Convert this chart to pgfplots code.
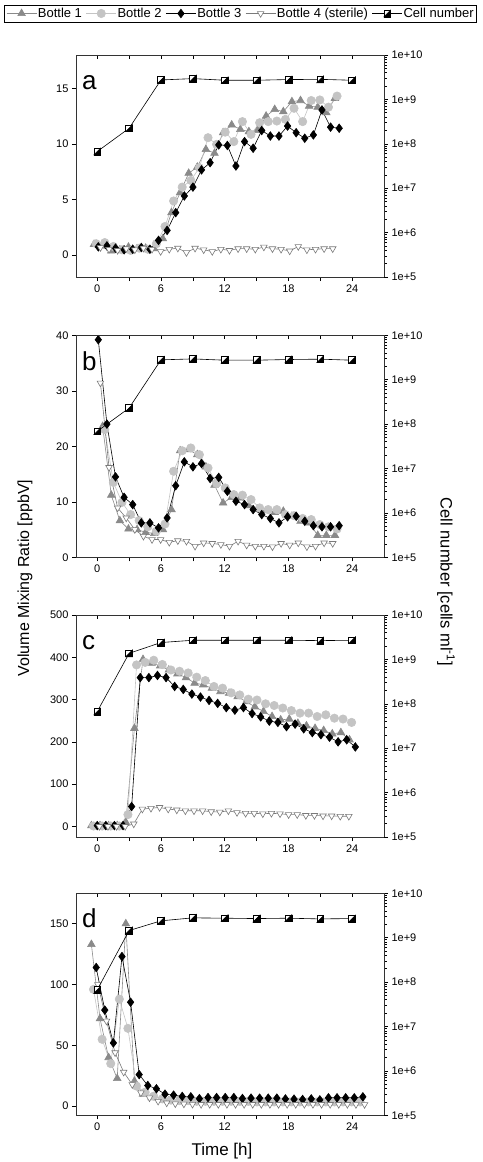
\documentclass[border=0pt]{standalone}
\usepackage{fontspec}
\setmainfont{Liberation Sans}
\usepackage{pgfplots}
\pgfplotsset{compat=1.18}
\definecolor{bone}{HTML}{8A8A8A}
\definecolor{btwo}{HTML}{C4C4C4}
\definecolor{bfour}{HTML}{7A7A7A}
\pgfdeclareplotmark{halfsq}{%
  \pgfpathrectangle{\pgfqpoint{-\pgfplotmarksize}{-\pgfplotmarksize}}{\pgfqpoint{2\pgfplotmarksize}{2\pgfplotmarksize}}%
  \pgfsetfillcolor{white}%
  \pgfusepathqfillstroke
  \pgfpathmoveto{\pgfqpoint{\pgfplotmarksize}{\pgfplotmarksize}}%
  \pgfpathlineto{\pgfqpoint{\pgfplotmarksize}{-\pgfplotmarksize}}%
  \pgfpathlineto{\pgfqpoint{-\pgfplotmarksize}{-\pgfplotmarksize}}%
  \pgfpathclose
  \pgfsetfillcolor{black}%
  \pgfusepathqfillstroke
}
\tikzset{
  ttl/.style={anchor=base east, font=\fontsize{12.5}{14}\selectfont, inner sep=0pt},
  letter/.style={anchor=base west, font=\fontsize{26}{26}\selectfont, inner sep=0pt},
}
\pgfplotsset{
  base/.style={scale only axis, width=308pt, height=222pt, xmin=-2, xmax=27,
    axis line style={line width=0.7pt, black!80},
    tick style={line width=0.6pt, black},
    major tick length=4pt, minor tick length=4pt,
    tick label style={font=\fontsize{11}{12}\selectfont},
    /pgf/number format/assume math mode=true, anchor=north west},
  lin/.style={base, xtick={0,6,12,18,24}, minor xtick={3,9,15,21},
    xtick pos=bottom, ytick pos=left, tick align=outside},
  topt/.style={base, hide y axis, axis x line*=top, xtick={0,3,...,24},
    xticklabels={}, tick align=inside, ymin=0, ymax=1},
  logr/.style={base, ymin=1e5, ymax=1e10, hide x axis,
    axis y line*=right, tick align=outside,
    ytick={1e5,1e6,1e7,1e8,1e9,1e10},
    yticklabels={1e+5,1e+6,1e+7,1e+8,1e+9,1e+10},
    minor tick length=2.5pt},
  b1/.style={color=bone, line width=0.6pt, mark=triangle*, mark size=4.4pt, mark options={fill=bone, draw=bone}},
  b2/.style={color=btwo, line width=0.6pt, mark=*, mark size=4.2pt, mark options={fill=btwo, draw=btwo}},
  b3/.style={color=black, line width=0.6pt, mark=diamond*, mark size=4.3pt, mark options={fill=black, draw=black}},
  b4/.style={color=bfour, line width=0.6pt, mark=triangle*, mark size=3.8pt, mark options={fill=white, draw=bfour, rotate=180}},
  cell/.style={color=black, line width=0.6pt, mark=halfsq, mark size=3.4pt, mark options={draw=black}},
}
\begin{document}
\begin{tikzpicture}
\useasboundingbox (0pt,0pt) rectangle (482pt,-1162pt);

% ================= panel a =================
\begin{axis}[lin, at={(76pt,-55pt)}, ymin=-2, ymax=18, ytick={0,5,10,15},
  legend columns=5,
  legend style={at={(0.534,1.187)}, anchor=center, draw=black, line width=0.6pt,
    font=\fontsize{13}{14}\selectfont, inner xsep=2pt, inner ysep=2pt,
    nodes={inner sep=1pt},
    /tikz/every even column/.append style={column sep=3pt}},
  legend cell align=left,
  legend image code/.code={\draw[mark repeat=2,mark phase=2] plot coordinates {(0pt,0pt) (15pt,0pt) (30pt,0pt)};}]
\addplot[b1] coordinates {(-0.30,0.95)(0.51,0.85)(1.32,0.35)(2.13,0.45)(2.94,0.7)(3.75,0.55)(4.56,0.6)(5.37,0.55)(6.18,1.45)(6.99,3.8)(7.80,5.6)(8.61,7.35)(9.42,7.9)(10.23,9.5)(11.04,9.15)(11.85,11.0)(12.66,11.7)(13.47,11.3)(14.28,11.1)(15.09,11.2)(15.90,12.5)(16.71,13.1)(17.52,12.9)(18.33,13.8)(19.14,13.9)(19.95,13.4)(20.76,13.3)(21.57,12.8)(22.38,14.1)};
\addlegendentry{Bottle 1}
\addplot[b2] coordinates {(-0.10,1.0)(0.71,1.1)(1.52,0.75)(2.33,0.45)(3.14,0.4)(3.95,0.6)(4.76,0.5)(5.57,1.0)(6.38,2.55)(7.19,4.85)(8.00,6.1)(8.81,6.7)(9.62,7.85)(10.43,10.55)(11.24,9.95)(12.05,11.05)(12.86,10.2)(13.67,12.0)(14.48,10.85)(15.29,11.9)(16.10,12.0)(16.91,12.05)(17.72,12.2)(18.53,13.2)(19.34,12.0)(20.15,13.9)(20.96,13.95)(21.77,13.3)(22.58,14.3)};
\addlegendentry{Bottle 2}
\addplot[b3] coordinates {(0.10,0.72)(0.91,0.8)(1.72,0.6)(2.53,0.45)(3.34,0.5)(4.15,0.66)(4.96,0.5)(5.77,1.3)(6.58,2.2)(7.39,3.8)(8.20,5.3)(9.01,6.1)(9.82,7.65)(10.63,8.3)(11.44,9.9)(12.25,9.85)(13.06,8.0)(13.87,10.2)(14.68,9.6)(15.49,11.2)(16.30,10.7)(17.11,10.7)(17.92,11.6)(18.73,11.0)(19.54,10.5)(20.35,10.8)(21.16,13.05)(21.97,11.5)(22.78,11.4)};
\addlegendentry{Bottle 3}
\addplot[b4] coordinates {(0.30,0.65)(1.11,0.5)(1.92,0.4)(2.73,0.55)(3.54,0.45)(4.35,0.6)(5.16,0.5)(5.97,0.3)(6.78,0.5)(7.59,0.6)(8.40,0.2)(9.21,0.6)(10.02,0.45)(10.83,0.3)(11.64,0.5)(12.45,0.4)(13.26,0.55)(14.07,0.55)(14.88,0.5)(15.69,0.7)(16.50,0.55)(17.31,0.5)(18.12,0.35)(18.93,0.75)(19.74,0.45)(20.55,0.5)(21.36,0.55)(22.17,0.55)};
\addlegendentry{Bottle 4 (sterile)}
\addlegendimage{cell}
\addlegendentry{Cell number}
\node[ttl] at (rel axis cs:1,1) [yshift=7.5pt] {\textit{Salmonella enterica}, 89 amu};
\node[letter] at (rel axis cs:0,1) [xshift=6pt, yshift=-34.3pt] {a};
\end{axis}
\begin{axis}[topt, at={(76pt,-55pt)}]\end{axis}
\begin{semilogyaxis}[logr, at={(76pt,-55pt)}]
\addplot[cell] coordinates {(0,6.7e7)(3,2.24e8)(6,2.74e9)(9,2.94e9)(12,2.7e9)(15,2.7e9)(18,2.8e9)(21,2.83e9)(24,2.7e9)};
\end{semilogyaxis}

% ================= panel b =================
\begin{axis}[lin, at={(76pt,-335.3pt)}, ymin=0, ymax=40, ytick={0,10,20,30,40}]
\addplot[b1] coordinates {(0.51,23.6)(1.32,11.2)(2.13,6.6)(2.94,5.1)(3.75,5.0)(4.56,4.5)(5.37,4.3)(6.18,5.0)(6.99,8.6)(7.80,19.2)(8.61,19.4)(9.42,18.5)(10.23,16.3)(11.04,13.0)(11.85,9.8)(12.66,10.8)(13.47,10.7)(14.28,9.3)(15.09,8.7)(15.90,8.4)(16.71,8.1)(17.52,8.3)(18.33,7.4)(19.14,6.5)(19.95,6.2)(20.76,3.96)(21.57,3.96)(22.38,3.96)};
\addplot[b2] coordinates {(0.71,23.0)(1.52,13.5)(2.33,9.9)(3.14,7.7)(3.95,6.6)(4.76,5.5)(5.57,4.7)(6.38,6.0)(7.19,15.5)(8.00,19.2)(8.81,19.7)(9.62,18.5)(10.43,16.1)(11.24,13.3)(12.05,12.5)(12.86,11.3)(13.67,11.2)(14.48,10.4)(15.29,8.9)(16.10,8.6)(16.91,8.6)(17.72,7.7)(18.53,7.5)(19.34,7.0)(20.15,6.8)(20.96,5.9)(21.77,5.5)(22.58,5.1)};
\addplot[b3] coordinates {(0.10,39.2)(0.91,24.0)(1.72,14.5)(2.53,10.8)(3.34,9.5)(4.15,6.2)(4.96,6.2)(5.77,5.3)(6.58,7.1)(7.39,12.9)(8.20,17.2)(9.01,16.3)(9.82,16.9)(10.63,14.2)(11.44,14.4)(12.25,11.9)(13.06,10.1)(13.87,9.5)(14.68,8.6)(15.49,7.7)(16.30,7.0)(17.11,6.2)(17.92,7.3)(18.73,7.4)(19.54,6.5)(20.35,5.7)(21.16,5.5)(21.97,5.5)(22.78,5.7)};
\addplot[b4] coordinates {(0.30,31.4)(1.11,16.2)(1.92,8.9)(2.73,7.1)(3.54,5.0)(4.35,3.8)(5.16,3.2)(5.97,3.2)(6.78,2.7)(7.59,3.0)(8.40,2.9)(9.21,2.0)(10.02,2.6)(10.83,2.5)(11.64,2.3)(12.45,2.0)(13.26,2.9)(14.07,2.2)(14.88,2.0)(15.69,2.0)(16.50,1.9)(17.31,2.5)(18.12,2.2)(18.93,2.6)(19.74,1.9)(20.55,2.0)(21.36,2.6)(22.17,2.5)};
\node[ttl] at (rel axis cs:1,1) [yshift=7pt] {\textit{Salmonella enterica},73 amu};
\node[letter] at (rel axis cs:0,1) [xshift=6pt, yshift=-34.7pt] {b};
\end{axis}
\begin{axis}[topt, at={(76pt,-335.3pt)}]\end{axis}
\begin{semilogyaxis}[logr, at={(76pt,-335.3pt)}]
\addplot[cell] coordinates {(0,6.9e7)(3,2.3e8)(6,2.8e9)(9,2.94e9)(12,2.75e9)(15,2.75e9)(18,2.85e9)(21,2.9e9)(24,2.75e9)};
\end{semilogyaxis}

% ================= panel c =================
\begin{axis}[lin, at={(76pt,-615pt)}, ymin=-25, ymax=500, ytick={0,100,200,300,400,500}]
\addplot[b1] coordinates {(-0.55,2)(0.26,2)(1.07,2)(1.88,2)(2.69,10)(3.50,232)(4.31,395)(5.12,386)(5.93,380)(6.74,370)(7.55,361)(8.36,352)(9.17,339)(9.98,335)(10.79,327)(11.60,319)(12.41,315)(13.22,307)(14.03,295)(14.84,283)(15.65,272)(16.46,260)(17.27,252)(18.08,254)(18.89,244)(19.70,238)(20.51,232)(21.32,227)(22.13,219)(22.94,222)(23.75,205)};
\addplot[b2] coordinates {(-0.35,1)(0.46,1)(1.27,1)(2.08,1)(2.89,28)(3.70,382)(4.51,388)(5.32,393)(6.13,383)(6.94,370)(7.75,367)(8.56,363)(9.37,353)(10.18,345)(10.99,331)(11.80,327)(12.61,316)(13.42,311)(14.23,301)(15.04,299)(15.85,290)(16.66,286)(17.47,280)(18.28,274)(19.09,268)(19.90,268)(20.71,260)(21.52,264)(22.33,256)(23.14,254)(23.95,246)};
\addplot[b3] coordinates {(0,2)(0.81,2)(1.62,2)(2.43,2)(3.24,47)(4.05,352)(4.86,352)(5.67,357)(6.48,352)(7.29,331)(8.10,324)(8.91,313)(9.72,306)(10.53,298)(11.34,291)(12.15,281)(12.96,275)(13.77,281)(14.58,267)(15.39,259)(16.20,249)(17.01,246)(17.82,236)(18.63,242)(19.44,231)(20.25,222)(21.06,217)(21.87,211)(22.68,200)(23.49,205)(24.30,188)};
\addplot[b4] coordinates {(0.20,0)(1.01,0)(1.82,0)(2.63,0)(3.44,6)(4.25,41)(5.06,43)(5.87,45)(6.68,41)(7.49,39)(8.30,37)(9.11,37)(9.92,37)(10.73,35)(11.54,34)(12.35,37)(13.16,33)(13.97,31)(14.78,31)(15.59,30)(16.40,31)(17.21,30)(18.02,28)(18.83,28)(19.64,26)(20.45,26)(21.26,25)(22.07,25)(22.88,24)(23.69,24)};
\node[ttl] at (rel axis cs:1,1) [yshift=8pt] {\textit{Escherichia coli},118 amu};
\node[letter] at (rel axis cs:0,1) [xshift=6pt, yshift=-34.3pt] {c};
\end{axis}
\begin{axis}[topt, at={(76pt,-615pt)}]\end{axis}
\begin{semilogyaxis}[logr, at={(76pt,-615pt)}]
\addplot[cell] coordinates {(0,6.7e7)(3,1.37e9)(6,2.4e9)(9,2.7e9)(12,2.7e9)(15,2.7e9)(18,2.7e9)(21,2.65e9)(24,2.7e9)};
\end{semilogyaxis}

% ================= panel d =================
\begin{axis}[lin, at={(76pt,-893.3pt)}, ymin=-7.5, ymax=175, ytick={0,50,100,150}]
\addplot[b1] coordinates {(-0.55,133)(0.26,72)(1.07,40)(1.88,22.8)(2.69,150)(3.50,20.6)(4.31,10)(5.12,7)(5.93,5)(6.74,4.5)(7.55,4)(8.36,4)(9.17,3.5)(9.98,3.5)(10.79,3.5)(11.60,3.5)(12.41,3.5)(13.22,3)(14.03,3)(14.84,3)(15.65,3)(16.46,3)(17.27,3)(18.08,3)(18.89,3)(19.70,3)(20.51,3)(21.32,3)(22.13,3)(22.94,3)(23.75,3)(24.56,3)};
\addplot[b2] coordinates {(-0.35,96)(0.46,55)(1.27,35)(2.08,88)(2.89,64)(3.70,16.5)(4.51,11.5)(5.32,8.2)(6.13,6)(6.94,5)(7.75,4.5)(8.56,4.5)(9.37,4)(10.18,4)(10.99,4)(11.80,4)(12.61,4)(13.42,4)(14.23,4)(15.04,3.5)(15.85,3.5)(16.66,3.5)(17.47,3.5)(18.28,3.5)(19.09,3.5)(19.90,3.5)(20.71,3.5)(21.52,3.5)(22.33,3.5)(23.14,3.5)(23.95,3.5)(24.76,3.5)};
\addplot[b3] coordinates {(-0.10,114)(0.71,79)(1.52,52)(2.33,123)(3.14,85.5)(3.95,26)(4.76,17)(5.57,14.3)(6.38,9.9)(7.19,9.1)(8.00,8.0)(8.81,7.7)(9.62,6.2)(10.43,7.1)(11.24,7.1)(12.05,7.1)(12.86,7.1)(13.67,6.3)(14.48,6.6)(15.29,6.6)(16.10,6.6)(16.91,6.6)(17.72,6.0)(18.53,5.8)(19.34,5.5)(20.15,6.0)(20.96,5.2)(21.77,6.9)(22.58,6.9)(23.39,6.9)(24.20,6.9)(25.01,7.7)};
\addplot[b4] coordinates {(0.06,100)(0.87,70)(1.68,44)(2.49,28)(3.30,17.8)(4.11,11)(4.92,6.9)(5.73,4.1)(6.54,2.7)(7.35,2.0)(8.16,1.8)(8.97,1.6)(9.78,1.5)(10.59,1.5)(11.40,1.5)(12.21,1.5)(13.02,1.5)(13.83,1.5)(14.64,1.5)(15.45,1.5)(16.26,1.5)(17.07,1.5)(17.88,1.5)(18.69,1.5)(19.50,1.5)(20.31,1.5)(21.12,1.5)(21.93,1.5)(22.74,1.5)(23.55,1.5)(24.36,1.4)(25.17,1.4)};
\node[ttl] at (rel axis cs:1,1) [yshift=6.6pt] {\textit{Escherichia coli}, 59 amu};
\node[letter] at (rel axis cs:0,1) [xshift=6pt, yshift=-34pt] {d};
\end{axis}
\begin{axis}[topt, at={(76pt,-893.3pt)}]\end{axis}
\begin{semilogyaxis}[logr, at={(76pt,-893.3pt)}]
\addplot[cell] coordinates {(0,6.7e7)(3,1.45e9)(6,2.4e9)(9,2.8e9)(12,2.75e9)(15,2.7e9)(18,2.75e9)(21,2.65e9)(24,2.7e9)};
\end{semilogyaxis}

% ================= axis labels =================
\node[rotate=90, font=\fontsize{16}{18}\selectfont] at (25pt,-578pt) {Volume Mixing Ratio [ppbV]};
\node[rotate=-90, font=\fontsize{16.5}{18}\selectfont] at (446pt,-582pt) {Cell number [cells ml\textsuperscript{-1}]};
\node[font=\fontsize{17}{19}\selectfont] at (222pt,-1151pt) {Time [h]};
\end{tikzpicture}
\end{document}
